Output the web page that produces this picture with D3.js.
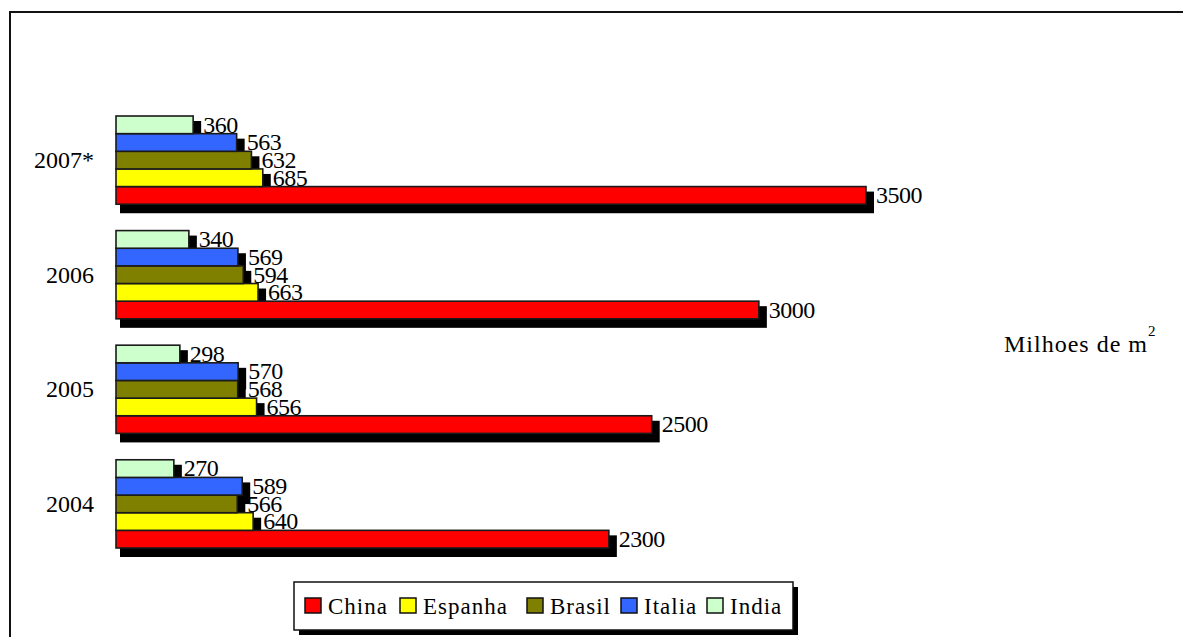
<!DOCTYPE html>
<html>
<head>
<meta charset="utf-8">
<script src="https://cdn.jsdelivr.net/npm/d3@7"></script>
</head>
<body style="margin:0">
<svg id="chart" width="1183" height="637"></svg>
<script>
// chart data
var years = ["2007*", "2006", "2005", "2004"];
var series = ["China", "Espanha", "Brasil", "Italia", "India"];
var colors = ["#ff0000", "#ffff00", "#808000", "#3366ff", "#ccffcc"];
var china   = [3500, 3000, 2500, 2300];
var espanha = [685, 663, 656, 640];
var brasil  = [632, 594, 568, 566];
var italia  = [563, 569, 570, 589];
var india   = [360, 340, 298, 270];
var unitLabel = "Milhoes de m";

var values = [china, espanha, brasil, italia, india];
var fontName = "Liberation Serif";
// legend swatch positions (layout only)
var legendX = [305, 400, 527, 621, 707];

var svg = d3.select("#chart");

// outer frame (right and bottom edges run off the page)
svg.append("rect")
  .attr("x", 10).attr("y", 12)
  .attr("width", 1300).attr("height", 800)
  .attr("fill", "#fff")
  .attr("stroke", "#111")
  .attr("stroke-width", 2);

var x = d3.scaleLinear().domain([0, 3500]).range([116, 866]);
var y = d3.scaleBand().domain(years).range([116, 548]).paddingInner(0.23);
// India on top of each group, China at the bottom
var inner = d3.scaleBand().domain(series.slice().reverse()).range([0, y.bandwidth()]);

var rows = [];
years.forEach(function (yr, i) {
  series.forEach(function (s, j) {
    rows.push({year: yr, name: s, value: values[j][i], color: colors[j]});
  });
});

// shadows first, bars over them
svg.append("g").selectAll("rect")
  .data(rows)
  .join("rect")
  .attr("x", x(0) + 4)
  .attr("y", function (d) { return y(d.year) + inner(d.name) + 5; })
  .attr("width", function (d) { return x(d.value) - x(0) + 4; })
  .attr("height", inner.bandwidth() + 4)
  .attr("fill", "#000");

svg.append("g").selectAll("rect")
  .data(rows)
  .join("rect")
  .attr("x", x(0))
  .attr("y", function (d) { return y(d.year) + inner(d.name); })
  .attr("width", function (d) { return x(d.value) - x(0); })
  .attr("height", inner.bandwidth())
  .attr("fill", function (d) { return d.color; })
  .attr("stroke", "#1a1a1a")
  .attr("stroke-width", 1.6);

svg.append("g").selectAll("text")
  .data(rows)
  .join("text")
  .attr("x", function (d) { return x(d.value) + 10; })
  .attr("y", function (d) { return y(d.year) + inner(d.name) + inner.bandwidth() - 1; })
  .style("font-family", fontName)
  .attr("font-size", 24)
  .attr("letter-spacing", -0.5)
  .attr("fill", "#000")
  .text(function (d) { return d.value; });

// category labels
svg.append("g").selectAll("text")
  .data(years)
  .join("text")
  .attr("x", 94)
  .attr("y", function (d) { return y(d) + y.bandwidth() / 2 + 8; })
  .attr("text-anchor", "end")
  .style("font-family", fontName)
  .attr("font-size", 24)
  .text(function (d) { return d; });

// unit label
var unit = svg.append("text")
  .attr("x", 1004).attr("y", 352)
  .style("font-family", fontName)
  .attr("font-size", 24)
  .attr("letter-spacing", 1);
unit.append("tspan").text(unitLabel);
unit.append("tspan").attr("dy", -16).attr("font-size", 15).text("2");

// legend
var legend = svg.append("g");
legend.append("rect")
  .attr("x", 299).attr("y", 587)
  .attr("width", 499).attr("height", 48)
  .attr("fill", "#000");
legend.append("rect")
  .attr("x", 294).attr("y", 582)
  .attr("width", 499).attr("height", 48)
  .attr("fill", "#fff")
  .attr("stroke", "#111")
  .attr("stroke-width", 1.5);

var items = legend.selectAll("g.item")
  .data(series)
  .join("g")
  .attr("class", "item")
  .attr("transform", function (d, j) { return "translate(" + legendX[j] + ",598)"; });
items.append("rect")
  .attr("width", 16).attr("height", 15)
  .attr("fill", function (d, j) { return colors[j]; })
  .attr("stroke", "#111")
  .attr("stroke-width", 1.5);
items.append("text")
  .attr("x", 23).attr("y", 16)
  .style("font-family", fontName)
  .attr("font-size", 23)
  .attr("letter-spacing", 1)
  .text(function (d) { return d; });
</script>
</body>
</html>
